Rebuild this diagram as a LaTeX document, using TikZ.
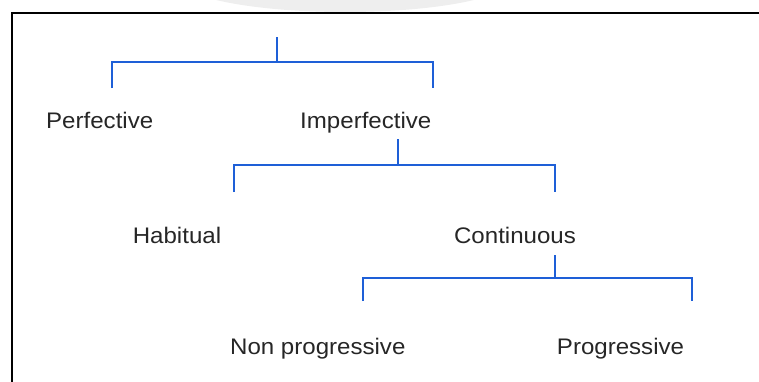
\documentclass[tikz,border=0pt]{standalone}
\usepackage{fontspec}
\setmainfont{Liberation Sans}[FakeStretch=1.07]
\definecolor{treeblue}{RGB}{30,95,215}
\definecolor{blob}{RGB}{238,238,238}
\begin{document}
\begin{tikzpicture}[x=1pt,y=-1pt,
  lbl/.style={anchor=base, inner sep=0pt, text=black!85, font=\fontsize{22.5}{27}\selectfont},
  br/.style={draw=treeblue, line width=2pt}]
\useasboundingbox (0,0) rectangle (759,381);
\clip (0,0) rectangle (759,381);
% faint grey blob at top
\fill[blob] (345,-20) ellipse [x radius=165, y radius=32];
% frame
\draw[line width=2pt, black] (11.5,400) -- (11.5,12.5) -- (780,12.5);
% labels
\node[lbl] (perf) at (99.7,128) {Perfective};
\node[lbl] (imperf) at (365.8,128) {Imperfective};
\node[lbl] (hab) at (177,243) {Habitual};
\node[lbl] (cont) at (515,243) {Continuous};
\node[lbl] (nonprog) at (317.8,354) {Non progressive};
\node[lbl] (prog) at (620.5,354) {Progressive};
% bracket points
\coordinate (r1) at (277,37);
\coordinate (m1) at (277,62);
\coordinate (a1) at (112,62);
\coordinate (b1) at (433,62);
\coordinate (a1e) at (112,88);
\coordinate (b1e) at (433,88);
\coordinate (r2) at (398,139);
\coordinate (m2) at (398,165);
\coordinate (a2) at (234,165);
\coordinate (b2) at (555,165);
\coordinate (a2e) at (234,192);
\coordinate (b2e) at (555,192);
\coordinate (r3) at (555,255);
\coordinate (m3) at (555,278);
\coordinate (a3) at (363,278);
\coordinate (b3) at (692,278);
\coordinate (a3e) at (363,301);
\coordinate (b3e) at (692,301);
% brackets
\draw[br] (r1) -- (m1);
\draw[br] (a1e) -- (a1) -- (b1) -- (b1e);
\draw[br] (r2) -- (m2);
\draw[br] (a2e) -- (a2) -- (b2) -- (b2e);
\draw[br] (r3) -- (m3);
\draw[br] (a3e) -- (a3) -- (b3) -- (b3e);
\end{tikzpicture}
\end{document}
